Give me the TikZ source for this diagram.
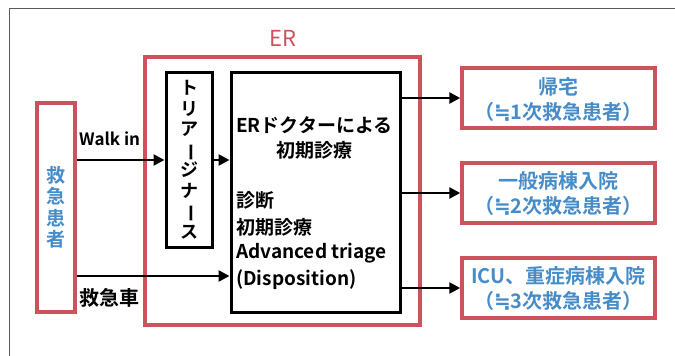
\documentclass[tikz,border=0pt]{standalone}
\usepackage{fontspec}
\setmainfont{Noto Sans CJK JP}[BoldFont={Noto Sans CJK JP Bold}]
\newfontfamily\djv{DejaVu Sans}
\usetikzlibrary{arrows.meta}
\definecolor{erred}{RGB}{204,82,92}
\definecolor{pblue}{RGB}{70,140,200}
\definecolor{frame}{RGB}{90,90,90}
\newcommand{\vbar}{\rotatebox[origin=c]{-90}{ー}}
\newcommand{\approxeq}{{\djv ≒}}
\tikzset{
  redbox/.style={draw=erred,line width=3.5pt,minimum width=#1,inner sep=0pt},
  blkbox/.style={draw=black,line width=3pt,inner sep=0pt},
  arr/.style={line width=2.6pt,-{Triangle[length=11pt,width=11pt]}},
  btxt/.style={font=\fontsize{19}{20}\selectfont\bfseries,text=black,inner sep=0pt},
  bluetxt/.style={font=\fontsize{20}{25}\selectfont\bfseries,text=pblue,align=center,inner sep=0pt},
}
\begin{document}
\begin{tikzpicture}[x=1pt,y=-1pt]
\useasboundingbox (0,0) rectangle (675,356);
\draw[frame,line width=0.8pt] (9,400) -- (9,8) -- (700,8);
% boxes
\node[redbox=38pt,minimum height=209pt] (patient) at (56,207.5) {};
\node[text=pblue,font=\fontsize{19}{21.5}\selectfont\bfseries,align=center,inner sep=0pt] (ptxt) at (56,207.5) {救\\急\\患\\者};
\node[redbox=275pt,minimum height=268pt] (er) at (282.5,191) {};
\node[text=erred,font=\fontsize{22}{22}\selectfont,inner sep=0pt] (erlabel) at (283,38) {ER};
\node[blkbox,minimum width=46pt,minimum height=175pt] (triage) at (189,159.5) {};
\node[btxt,align=center,font=\fontsize{18}{20.5}\selectfont\bfseries] (ttxt) at (189,160) {ト\\リ\\ア\\\vbar\\ジ\\ナ\\\vbar\\ス};
\node[blkbox,minimum width=169pt,minimum height=240pt] (main) at (315.5,192) {};
\node[btxt,anchor=west] (m1) at (236,125) {ERドクターによる};
\node[btxt] (m2) at (314,150) {初期診療};
\node[btxt,anchor=west] (m3) at (236,200) {診断};
\node[btxt,anchor=west] (m4) at (236,227) {初期診療};
\node[btxt,anchor=west] (m5) at (236,253) {Advanced triage};
\node[btxt,anchor=west] (m6) at (236,280) {(Disposition)};
\node[redbox=193pt,minimum height=60pt] (r1) at (558.5,98) {};
\node[bluetxt] (r1t) at (558.5,100) {帰宅\\（\approxeq 1次救急患者）};
\node[redbox=193pt,minimum height=60pt] (r2) at (558.5,193) {};
\node[bluetxt] (r2t) at (558.5,193) {一般病棟入院\\（\approxeq 2次救急患者）};
\node[redbox=193pt,minimum height=60pt] (r3) at (558.5,288) {};
\node[bluetxt] (r3t) at (558.5,288) {ICU、重症病棟入院\\（\approxeq 3次救急患者）};
% labels
\node[btxt,font=\fontsize{17}{18}\selectfont\bfseries,anchor=west] (walk) at (79,139) {Walk in};
\node[btxt,font=\fontsize{20}{20}\selectfont\bfseries,anchor=west] (amb) at (79,298) {救急車};
% arrows
\draw[arr] (patient.east |- 0,160) -- (triage.west |- 0,160);
\draw[arr] (triage.east |- 0,160) -- (main.west |- 0,160);
\draw[arr] (patient.east |- 0,276) -- (main.west |- 0,276);
\draw[arr] (main.east |- r1.west) -- (r1.west);
\draw[arr] (main.east |- r2.west) -- (r2.west);
\draw[arr] (main.east |- r3.west) -- (r3.west);
\end{tikzpicture}
\end{document}
